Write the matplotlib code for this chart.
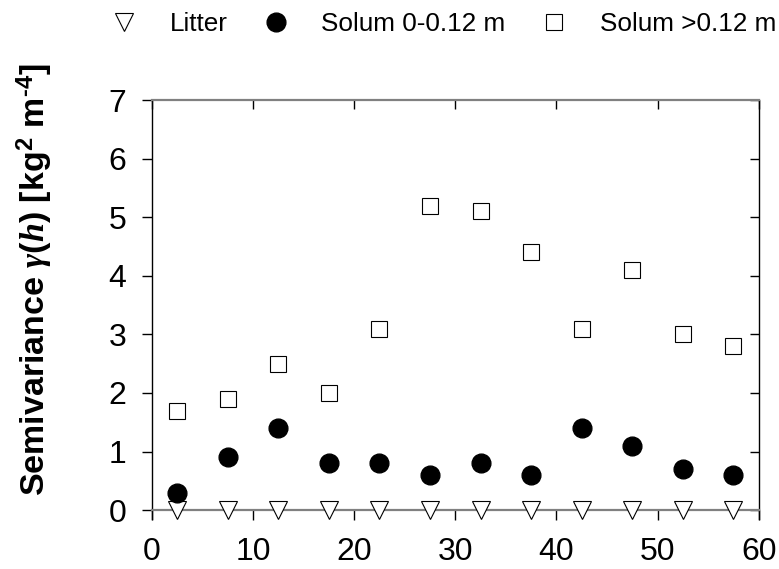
import matplotlib.pyplot as plt
import numpy as np

plt.rcParams["font.family"] = "Liberation Sans"
plt.rcParams["mathtext.fontset"] = "custom"
plt.rcParams["mathtext.rm"] = "Liberation Sans:bold"
plt.rcParams["mathtext.bf"] = "Liberation Sans:bold"
plt.rcParams["mathtext.it"] = "Liberation Serif:italic:bold"

# lag distance classes (m)
lag = [2.5, 7.5, 12.5, 17.5, 22.5, 27.5, 32.5, 37.5, 42.5, 47.5, 52.5, 57.5]
litter = [0, 0, 0, 0, 0, 0, 0, 0, 0, 0, 0, 0]
solum_top = [0.3, 0.9, 1.4, 0.8, 0.8, 0.6, 0.8, 0.6, 1.4, 1.1, 0.7, 0.6]
solum_deep = [1.7, 1.9, 2.5, 2.0, 3.1, 5.2, 5.1, 4.4, 3.1, 4.1, 3.0, 2.8]

fig = plt.figure(figsize=(7.79, 5.69), dpi=100)
ax = fig.add_axes([0.195, 0.088, 0.779, 0.736])

l1, = ax.plot(lag, litter, "v", ms=13.5, mfc="white", mec="black", mew=0.8,
              clip_on=False, zorder=5, label="Litter")
l2, = ax.plot(lag, solum_top, "o", ms=13.5, mfc="black", mec="black",
              clip_on=False, zorder=5, label="Solum 0-0.12 m")
l3, = ax.plot(lag, solum_deep, "s", ms=12, mfc="white", mec="black", mew=0.8,
              clip_on=False, zorder=5, label="Solum >0.12 m")

ax.set_xlim(0, 60)
ax.set_ylim(-0.15, 7)
ax.set_xticks(np.arange(0, 61, 10))
ax.set_yticks(np.arange(0, 8, 1))

ax.spines["bottom"].set_position(("data", 0))
ax.spines["bottom"].set_color("#808080")
ax.spines["top"].set_color("#808080")
for s in ["bottom", "top"]:
    ax.spines[s].set_linewidth(1.6)
for s in ["left", "right"]:
    ax.spines[s].set_linewidth(1.0)
    ax.spines[s].set_color("black")

ax.tick_params(axis="x", direction="out", length=7, width=1,
               labelsize=23, pad=12, top=True, labeltop=False)
ax.tick_params(axis="y", direction="out", length=7.5, width=1,
               labelsize=23, pad=11, right=True, labelright=False)
# top/right ticks point inward
for t in ax.yaxis.get_major_ticks():
    t.tick2line.set_marker(0)
    t.tick2line.set_markersize(6.5)
for t in ax.xaxis.get_major_ticks():
    t.tick2line.set_marker(3)
    t.tick2line.set_markersize(6.5)

ax.set_ylabel(r"Semivariance $\mathit{\gamma(h)}$ [kg$^{2}$ m$^{\text{-}4}$]",
              fontsize=24.5, fontweight="bold")
ax.yaxis.set_label_coords(-0.16, 0.57)

fig.legend(handles=[l1, l2, l3], loc="center left",
           bbox_to_anchor=(111 / 779, 1 - 24 / 569), ncol=3, frameon=False,
           fontsize=18.8, handlelength=1.0, handletextpad=1.24,
           columnspacing=1.36, borderpad=0, borderaxespad=0)

fig.savefig("out.png", dpi=100)
